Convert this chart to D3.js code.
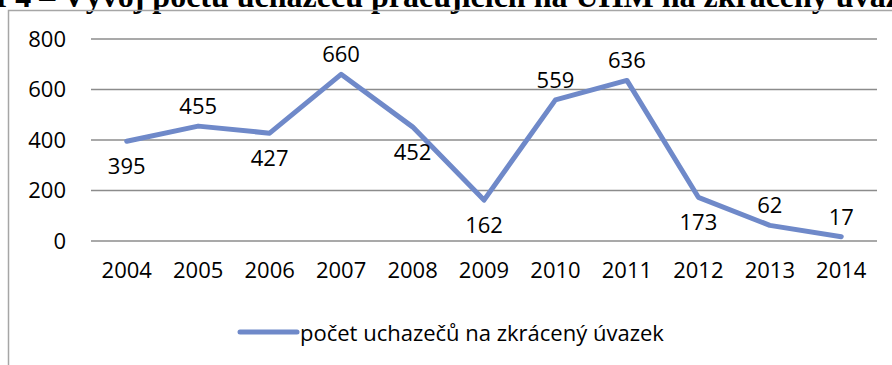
<!DOCTYPE html>
<html>
<head>
<meta charset="utf-8">
<script src="https://cdn.jsdelivr.net/npm/d3@7/dist/d3.min.js"></script>
<style>
  html, body { margin: 0; padding: 0; background: #fff; }
  svg { display: block; }
</style>
</head>
<body>
<svg id="chart" width="892" height="365"></svg>
<script>
// Počet uchazečů na zkrácený úvazek, 2004–2014
const years = ["2004", "2005", "2006", "2007", "2008", "2009", "2010", "2011", "2012", "2013", "2014"];
const applicants = [395, 455, 427, 660, 452, 162, 559, 636, 173, 62, 17];
const yTicks = [0, 200, 400, 600, 800];
const labelSide = ["below", "above", "below", "above", "below", "below", "above", "above", "below", "above", "above"];
const seriesName = "počet uchazečů na zkrácený úvazek";
const titleText = "Graf 4 – Vývoj počtu uchazečů pracujících na ÚHM na zkrácený úvazek";

const svg = d3.select("#chart");
const font = "'Open Sans', Lato, sans-serif";
const fontSize = 22;
const lineColor = "#6f89c9";

// caption above the chart frame; its upper half runs off the top edge
const title = svg.append("text")
  .attr("x", 0).attr("y", 7)
  .attr("font-family", "'Liberation Serif', 'Times New Roman', serif")
  .attr("font-weight", "bold")
  .attr("font-size", 32)
  .attr("fill", "#000")
  .text(titleText);
// shift so the word "pracujících" starts at x = 371
const pIdx = titleText.indexOf("pracujících");
const pStart = title.node().getStartPositionOfChar(pIdx).x;
title.attr("x", 371 - pStart);

// chart frame (top and left edges visible)
svg.append("path")
  .attr("d", "M8.5,365 V10.5 H892")
  .attr("fill", "none")
  .attr("stroke", "#a6a6a6")
  .attr("stroke-width", 1.5);

const plot = { left: 91, right: 877, top: 39, bottom: 241 };

const x = d3.scaleBand().domain(years).range([plot.left, plot.right]);
const y = d3.scaleLinear().domain([0, 800]).range([plot.bottom, plot.top]);

// horizontal gridlines
svg.append("g")
  .selectAll("line")
  .data(yTicks)
  .join("line")
  .attr("x1", plot.left).attr("x2", plot.right)
  .attr("y1", d => y(d)).attr("y2", d => y(d))
  .attr("stroke", "#8c8c8c")
  .attr("stroke-width", 1.5);

// y axis labels
const yAxis = d3.axisLeft(y).tickValues(yTicks).tickSize(0).tickPadding(0);
svg.append("g")
  .attr("transform", "translate(66,0)")
  .call(yAxis)
  .call(g => g.select(".domain").remove())
  .call(g => g.selectAll("text")
    .attr("font-family", font).attr("font-size", fontSize).attr("fill", "#000"));

// x axis labels
const xAxis = d3.axisBottom(x).tickSize(0).tickPadding(0);
svg.append("g")
  .attr("transform", "translate(0,262)")
  .call(xAxis)
  .call(g => g.select(".domain").remove())
  .call(g => g.selectAll("text")
    .attr("font-family", font).attr("font-size", fontSize).attr("fill", "#000"));

const cx = d => x(d) + x.bandwidth() / 2;

// data line
const line = d3.line()
  .x((d, i) => cx(years[i]))
  .y(d => y(d));

svg.append("path")
  .datum(applicants)
  .attr("d", line)
  .attr("fill", "none")
  .attr("stroke", lineColor)
  .attr("stroke-width", 5)
  .attr("stroke-linejoin", "round")
  .attr("stroke-linecap", "round");

// value labels
svg.append("g")
  .selectAll("text")
  .data(applicants)
  .join("text")
  .attr("x", (d, i) => cx(years[i]))
  .attr("y", (d, i) => y(d) + (labelSide[i] === "above" ? -21 : 24))
  .attr("text-anchor", "middle")
  .attr("dominant-baseline", "central")
  .attr("font-family", font)
  .attr("font-size", fontSize)
  .attr("fill", "#000")
  .text(d => d);

// legend
const legend = svg.append("g");
legend.append("line")
  .attr("x1", 240).attr("x2", 297)
  .attr("y1", 332).attr("y2", 332)
  .attr("stroke", lineColor)
  .attr("stroke-width", 5)
  .attr("stroke-linecap", "round");
legend.append("text")
  .attr("x", 300).attr("y", 332)
  .attr("dominant-baseline", "central")
  .attr("font-family", font)
  .attr("font-size", fontSize)
  .attr("fill", "#000")
  .text(seriesName);
</script>
</body>
</html>
